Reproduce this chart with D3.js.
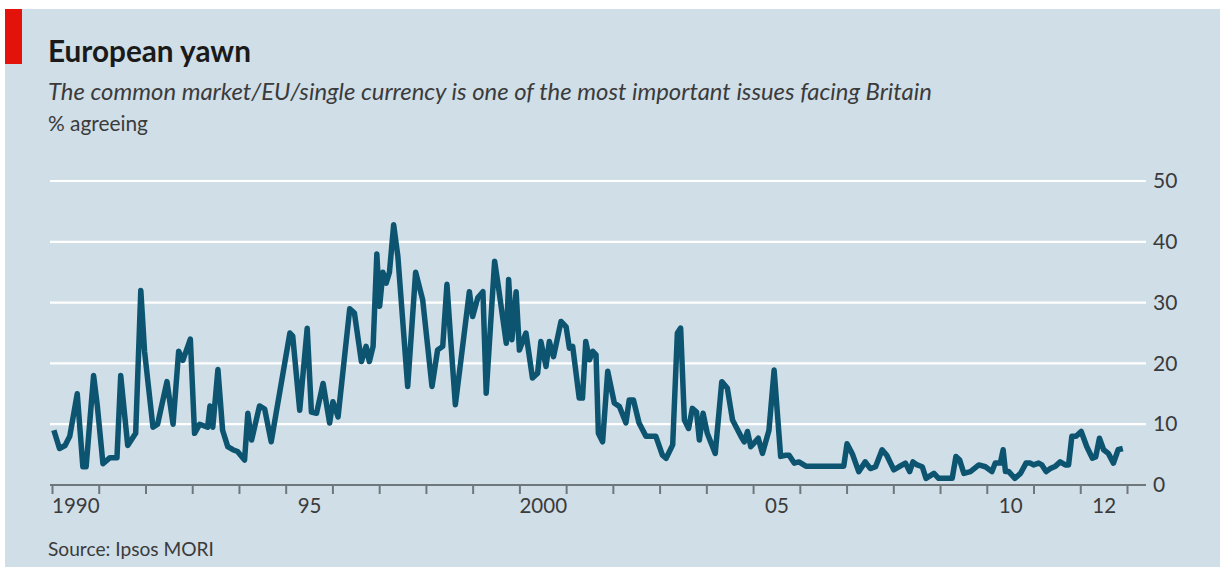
<!DOCTYPE html>
<html>
<head>
<meta charset="utf-8">
<script src="https://cdn.jsdelivr.net/npm/d3@7"></script>
<style>
  html, body { margin: 0; padding: 0; background: #ffffff; }
  svg { display: block; }
  text { font-family: Lato, "Open Sans", sans-serif; }
</style>
</head>
<body>
<svg id="chart" width="1220" height="570"></svg>
<script>
// ---- Data ----
const title = "European yawn";
const subtitle = "The common market/EU/single currency is one of the most important issues facing Britain";
const unitLabel = "% agreeing";
const sourceLabel = "Source: Ipsos MORI";

const dates = [
  1990.04, 1990.16, 1990.28, 1990.38, 1990.54, 1990.66, 1990.73, 1990.89, 1990.97, 1991.09,
  1991.24, 1991.39, 1991.47, 1991.62, 1991.79, 1991.90, 1991.98, 1992.16, 1992.26, 1992.46,
  1992.59, 1992.71, 1992.80, 1992.96, 1993.05, 1993.16, 1993.33, 1993.38, 1993.44, 1993.55,
  1993.65, 1993.76, 1993.87, 1993.97, 1994.12, 1994.19, 1994.27, 1994.44, 1994.55, 1994.69,
  1995.09, 1995.15, 1995.30, 1995.46, 1995.55, 1995.66, 1995.80, 1995.94, 1996.01, 1996.12,
  1996.37, 1996.47, 1996.62, 1996.72, 1996.79, 1996.87, 1996.95, 1997.01, 1997.08, 1997.15,
  1997.22, 1997.31, 1997.40, 1997.61, 1997.78, 1997.93, 1998.13, 1998.25, 1998.36, 1998.45,
  1998.54, 1998.63, 1998.75, 1998.93, 1999.00, 1999.11, 1999.22, 1999.29, 1999.47, 1999.54,
  1999.72, 1999.77, 1999.84, 1999.93, 2000.00, 2000.14, 2000.28, 2000.39, 2000.46, 2000.57,
  2000.64, 2000.73, 2000.89, 2001.00, 2001.07, 2001.14, 2001.28, 2001.35, 2001.42, 2001.50,
  2001.57, 2001.64, 2001.69, 2001.78, 2001.89, 2002.03, 2002.14, 2002.28, 2002.35, 2002.44,
  2002.56, 2002.71, 2002.92, 2003.06, 2003.14, 2003.28, 2003.38, 2003.45, 2003.53, 2003.62,
  2003.70, 2003.79, 2003.85, 2003.93, 2004.02, 2004.19, 2004.33, 2004.45, 2004.56, 2004.74,
  2004.81, 2004.88, 2004.95, 2005.02, 2005.11, 2005.20, 2005.34, 2005.45, 2005.59, 2005.70,
  2005.77, 2005.88, 2005.98, 2006.13, 2006.94, 2007.01, 2007.13, 2007.26, 2007.40, 2007.51,
  2007.62, 2007.76, 2007.86, 2008.01, 2008.12, 2008.26, 2008.35, 2008.42, 2008.51, 2008.62,
  2008.70, 2008.87, 2008.97, 2009.26, 2009.34, 2009.42, 2009.51, 2009.65, 2009.83, 2009.97,
  2010.11, 2010.18, 2010.29, 2010.35, 2010.40, 2010.47, 2010.60, 2010.72, 2010.84, 2010.93,
  2011.00, 2011.11, 2011.18, 2011.27, 2011.36, 2011.47, 2011.57, 2011.68, 2011.75, 2011.82,
  2011.91, 2012.02, 2012.14, 2012.26, 2012.33, 2012.41, 2012.50, 2012.60, 2012.71, 2012.81,
  2012.91
];

const values = [
  9, 6, 6.5, 8, 15, 3, 3, 18, 13, 3.5,
  4.5, 4.5, 18, 6.5, 8.5, 32, 22, 9.5, 10, 17,
  10, 22, 20.5, 24, 8.5, 10, 9.5, 13, 9.5, 19,
  9, 6.3, 5.8, 5.5, 4.1, 11.8, 7.4, 13, 12.5, 7.1,
  25, 24.5, 12.3, 25.8, 12, 11.8, 16.7, 10.2, 13.7, 11.2,
  29, 28.3, 20.3, 22.8, 20.3, 22.8, 38, 29.4, 35, 33.2,
  35, 42.8, 37.6, 16.2, 35, 30.5, 16.2, 22.2, 22.8, 33,
  22.8, 13.2, 20.6, 31.8, 27.7, 30.8, 31.8, 15.1, 36.8, 33.2,
  23.3, 33.8, 23.9, 31.8, 22.2, 25, 17.6, 18.4, 23.6, 19.5,
  23.6, 21.1, 26.9, 26, 22.5, 22.8, 14.3, 14.3, 23.6, 20.6,
  22, 21.4, 8.5, 7.1, 18.7, 13.5, 12.9, 10.2, 14, 14,
  10.2, 8, 8, 4.9, 4.4, 6.6, 25, 25.8, 10.7, 9.3,
  12.6, 12, 7.4, 11.8, 8.5, 5.2, 17, 15.9, 10.7, 8,
  7.1, 8.8, 6.3, 6.9, 7.7, 5.2, 9, 18.9, 4.7, 4.9,
  4.9, 3.6, 3.8, 3.1, 3.1, 6.8, 5, 2.2, 3.8, 2.7,
  3, 5.8, 4.9, 2.5, 3, 3.6, 2.2, 3.8, 3.3, 3,
  1.1, 1.9, 1.1, 1.1, 4.7, 4.1, 1.9, 2.2, 3.3, 3,
  2.2, 3.6, 3.6, 5.8, 2.2, 2.2, 1.1, 1.9, 3.6, 3.6,
  3.3, 3.6, 3.3, 2.2, 2.7, 3.1, 3.8, 3.3, 3.3, 8,
  8, 8.8, 6.3, 4.4, 4.6, 7.7, 5.8, 5.2, 3.6, 5.8,
  6
];

const yTicks = [0, 10, 20, 30, 40, 50];
const yearTicks = d3.range(1990, 2014);
const xLabelYears = [1990, 1995, 2000, 2005, 2010, 2012];
const xLabelTexts = ["1990", "95", "2000", "05", "10", "12"];

// ---- Layout ----
const svg = d3.select("#chart");
const W = 1220, H = 570;
const bg = "#cfdee7";
const lineColor = "#0d5470";
const textColor = "#3b3b3b";
const axisColor = "#6e777c";

svg.append("rect").attr("x", 5).attr("y", 9).attr("width", W - 5).attr("height", H - 12).attr("fill", bg);
svg.append("rect").attr("x", 5).attr("y", 9).attr("width", 17).attr("height", 55).attr("fill", "#e3120b");

const x = d3.scaleLinear().domain([1990, 2013]).range([52, 1127]);
const y = d3.scaleLinear().domain([0, 50]).range([485, 181]);
const gridLeft = 50, gridRight = 1146;

function fitText(sel, target) {
  const w = sel.node().getComputedTextLength();
  const fs = parseFloat(sel.attr("font-size"));
  sel.attr("font-size", (fs * target / w).toFixed(2));
}

const t1 = svg.append("text").attr("x", 48).attr("y", 62)
  .attr("font-size", 26).attr("font-weight", 700).attr("fill", "#1a1a1a").text(title);
fitText(t1, 203);
const t2 = svg.append("text").attr("x", 48).attr("y", 100)
  .attr("font-size", 20).attr("font-style", "italic").attr("fill", textColor).text(subtitle);
fitText(t2, 884);
const t3 = svg.append("text").attr("x", 48).attr("y", 131)
  .attr("font-size", 17).attr("fill", textColor).text(unitLabel);
fitText(t3, 100);

// Gridlines
svg.append("g").selectAll("line").data(yTicks.filter(d => d > 0)).join("line")
  .attr("x1", gridLeft).attr("x2", gridRight)
  .attr("y1", d => y(d)).attr("y2", d => y(d))
  .attr("stroke", "#ffffff").attr("stroke-width", 2.2);

// Y axis labels (right)
const yAxis = d3.axisRight(y).tickValues(yTicks).tickSize(0).tickPadding(0).tickFormat(d3.format("d"));
const gy = svg.append("g").attr("transform", `translate(1153,0)`).call(yAxis);
gy.select(".domain").remove();
gy.selectAll("text").attr("font-size", 21).attr("fill", textColor).attr("font-family", "Lato, 'Open Sans', sans-serif");

// X axis ticks
const xAxis = d3.axisBottom(x).tickValues(yearTicks).tickSize(9).tickFormat("");
const gx = svg.append("g").attr("transform", `translate(0,${y(0)})`).call(xAxis);
gx.select(".domain").remove();
gx.selectAll(".tick line").attr("stroke", axisColor).attr("stroke-width", 2);
svg.append("line").attr("x1", gridLeft).attr("x2", gridRight)
  .attr("y1", y(0)).attr("y2", y(0)).attr("stroke", axisColor).attr("stroke-width", 2.2);

// X labels centred in the year interval
const xLab = d3.axisBottom(x).tickValues(xLabelYears.map(d => d + 0.5)).tickSize(0).tickPadding(0)
  .tickFormat((d, i) => xLabelTexts[i]);
const gxl = svg.append("g").attr("transform", `translate(0,${y(0) + 28})`).call(xLab);
gxl.select(".domain").remove();
gxl.selectAll("text").attr("font-size", 20.5).attr("fill", textColor)
  .attr("font-family", "Lato, 'Open Sans', sans-serif").attr("dy", "0");

// Line
const pts = dates.map((d, i) => [d, values[i]]);
const line = d3.line().x(d => x(d[0])).y(d => y(d[1]));
svg.append("path").datum(pts).attr("d", line)
  .attr("fill", "none").attr("stroke", lineColor).attr("stroke-width", 5.5)
  .attr("stroke-linejoin", "round").attr("stroke-linecap", "butt");

// Source
const t4 = svg.append("text").attr("x", 48).attr("y", 556)
  .attr("font-size", 16).attr("fill", textColor).text(sourceLabel);
fitText(t4, 166);
</script>
</body>
</html>
